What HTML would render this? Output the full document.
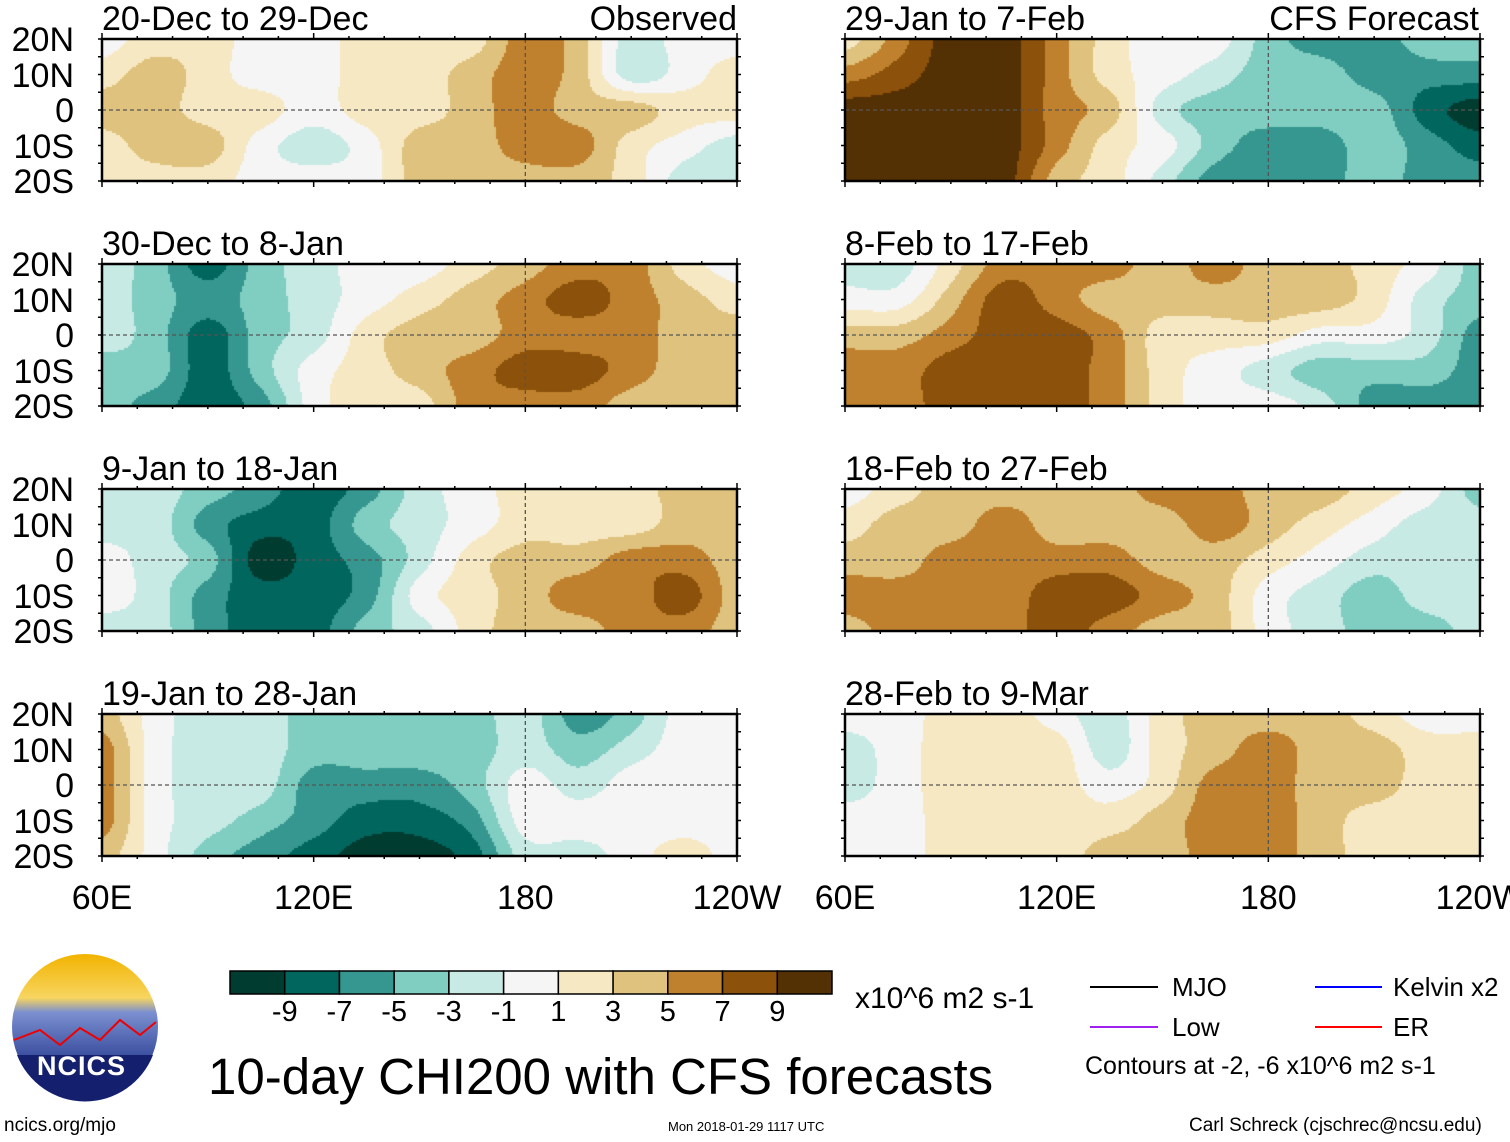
<!DOCTYPE html>
<html><head><meta charset="utf-8">
<style>
body{margin:0;width:1510px;height:1142px;background:#fff;position:relative;overflow:hidden;font-family:"Liberation Sans",sans-serif;color:#000}
.t{position:absolute;white-space:nowrap;line-height:1}
canvas{position:absolute}
</style></head><body>
<svg id="frame" width="1510" height="1142" style="position:absolute;left:0;top:0"></svg>
<script>
// grid nodes: longitudes 60E..240E every 15 deg, latitudes 20N,10N,0,10S,20S
const lons=[60,75,90,105,120,135,150,165,180,195,210,225,240];
const lats=[20,10,0,-10,-20];
const titles=["20-Dec to 29-Dec","30-Dec to 8-Jan","9-Jan to 18-Jan","19-Jan to 28-Jan","29-Jan to 7-Feb","8-Feb to 17-Feb","18-Feb to 27-Feb","28-Feb to 9-Mar"];
// each panel: rows = lats, columns = lons
const p1=[[0,2,2,0,0,2,2,2,6,4,-2,0,0],[2,4,2,0,0,2,2,4,6,4,-2,0,2],[4,4,2,2,0,2,2,4,6,4,4,2,2],[2,4,4,0,-2,0,4,4,6,6,2,0,-2],[2,2,2,0,0,0,4,4,4,4,2,-2,-2]];
const p2=[[-2,-4,-8,-4,-2,0,0,2,4,6,6,2,0],[-2,-4,-6,-4,-2,0,2,4,6,8,6,4,2],[-2,-4,-8,-4,-2,2,4,4,6,6,6,4,4],[-4,-4,-8,-4,0,2,4,6,8,8,6,4,4],[-4,-6,-8,-6,0,2,2,6,6,6,4,4,4]];
const p3=[[-2,-2,-4,-6,-8,-6,-2,0,2,2,2,4,4],[-2,-2,-6,-8,-8,-4,-2,0,2,2,2,4,4],[0,-2,-4,-10,-8,-6,-2,2,4,4,6,6,4],[0,-2,-6,-8,-8,-6,0,2,4,6,6,8,4],[-2,-2,-6,-8,-8,-4,-2,2,4,4,6,6,4]];
const p4=[[4,0,-2,-2,-4,-4,-4,-4,-2,-6,-4,0,0],[6,0,-2,-2,-4,-4,-4,-4,-2,-4,-2,0,0],[6,0,-2,-2,-6,-6,-6,-4,0,-2,0,0,0],[6,0,-2,-4,-6,-8,-8,-6,0,0,0,0,0],[4,0,-4,-6,-8,-10,-10,-8,-2,-2,0,2,0]];
const p5=[[2,6,10,10,6,2,0,0,-4,-6,-6,-4,-4],[6,8,10,10,6,2,0,-2,-4,-4,-6,-6,-6],[10,10,10,10,6,4,-2,-4,-4,-4,-4,-8,-10],[10,10,10,10,6,2,0,-4,-6,-6,-4,-6,-8],[10,10,10,10,4,2,-2,-6,-6,-6,-4,-6,-6]];
const p6=[[-2,-2,2,6,6,6,4,6,4,4,2,0,-4],[0,0,4,8,6,4,4,4,4,4,2,-2,-4],[4,4,6,8,8,6,2,2,2,0,0,-2,-6],[6,6,8,8,8,6,2,0,-2,-4,-4,-4,-6],[6,6,8,8,8,6,2,0,0,-2,-6,-6,-6]];
const p7=[[0,2,4,4,4,4,6,6,4,4,2,0,-4],[2,4,4,6,4,4,4,6,4,2,0,-2,-2],[4,4,6,6,6,6,4,4,2,0,-2,-2,-2],[6,6,6,6,8,8,6,4,0,-2,-4,-2,-2],[4,6,6,6,8,6,4,4,0,-2,-4,-4,-2]];
const p8=[[0,0,2,2,0,-2,2,4,4,4,2,0,0],[-2,0,2,2,2,-2,2,4,6,4,4,2,2],[-2,0,2,2,2,0,2,6,6,4,4,2,2],[0,0,2,2,2,2,4,6,6,4,2,2,2],[0,0,2,2,2,4,4,6,6,4,2,2,2]];
const fields=[p1,p2,p3,p4,p5,p6,p7,p8];
const levels=[-9,-7,-5,-3,-1,1,3,5,7,9];
const colors=["#003c30","#01665e","#35978f","#80cdc1","#c7eae5","#f5f5f5","#f6e8c3","#dfc27d","#bf812d","#8c510a","#543005"];
const latTicks=["20N","10N","0","10S","20S"];
const lonTicks=["60E","120E","180","120W"];
</script>
<script>
const NS="http://www.w3.org/2000/svg";
const svg=document.getElementById('frame');
const PW=635,PH=142;
const colX=[102,845], rowY=[39,264,489,714];
function xOf(lon,x0){return x0+(lon-60)/180*PW;}
function yOf(lat,y0){return y0+(20-lat)/40*PH;}
function colorOf(v){let i=0;while(i<levels.length&&v>=levels[i])i++;return colors[i];}
function cr(p0,p1,p2,p3,t){return 0.5*((2*p1)+(-p0+p2)*t+(2*p0-5*p1+4*p2-p3)*t*t+(-p0+3*p1-3*p2+p3)*t*t*t);}
function sample(f,lon,lat){
  let fi=(lon-60)/15, fj=(20-lat)/10;
  let i=Math.min(Math.floor(fi),11), j=Math.min(Math.floor(fj),3);
  let a=fi-i,b=fj-j;
  const g=(r,c)=>f[Math.max(0,Math.min(4,r))][Math.max(0,Math.min(12,c))];
  const rows=[];
  for(let r=j-1;r<=j+2;r++)rows.push(cr(g(r,i-1),g(r,i),g(r,i+1),g(r,i+2),a));
  return cr(rows[0],rows[1],rows[2],rows[3],b);
}
function mk(tag,attrs,parent){const e=document.createElementNS(NS,tag);for(const k in attrs)e.setAttribute(k,attrs[k]);(parent||svg).appendChild(e);return e;}
function txt(s,x,y,size,anchor){
  const d=document.createElement('div');d.className='t';d.textContent=s;
  d.style.left=x+'px';d.style.top=y+'px';d.style.fontSize=size+'px';
  if(anchor==='end'){d.style.transform='translateX(-100%)';}
  if(anchor==='middle'){d.style.transform='translateX(-50%)';}
  document.body.appendChild(d);return d;
}
fields.forEach((f,p)=>{
  const x0=colX[Math.floor(p/4)], y0=rowY[p%4];
  const cv=document.createElement('canvas');cv.width=PW;cv.height=PH;
  cv.style.left=x0+'px';cv.style.top=y0+'px';
  
  
  document.body.insertBefore(cv,svg);
  const ctx=cv.getContext('2d');const s=2;
  for(let px=0;px<PW;px+=s)for(let py=0;py<PH;py+=s){
    const lon=60+(px+s/2)/PW*180, lat=20-(py+s/2)/PH*40;
    ctx.fillStyle=colorOf(sample(f,lon,lat)+1e-6);ctx.fillRect(px,py,s,s);
  }
  const g=mk('g',{});
  
  
  mk('line',{x1:x0,x2:x0+PW,y1:yOf(0,y0),y2:yOf(0,y0),stroke:'#555','stroke-dasharray':'4,3','stroke-width':1.3},g);
  mk('line',{x1:xOf(180,x0),x2:xOf(180,x0),y1:y0,y2:y0+PH,stroke:'#555','stroke-dasharray':'4,3','stroke-width':1.3},g);
  mk('rect',{x:x0,y:y0,width:PW,height:PH,fill:'none',stroke:'#000','stroke-width':2.5},g);
  for(let lon=60;lon<=240;lon+=10){const x=xOf(lon,x0);const L=(lon%60===0)?6:3;
    mk('line',{x1:x,x2:x,y1:y0,y2:y0-L,stroke:'#000','stroke-width':1.5},g);mk('line',{x1:x,x2:x,y1:y0+PH,y2:y0+PH+L,stroke:'#000','stroke-width':1.5},g);}
  for(let lat=-20;lat<=20;lat+=5){const y=yOf(lat,y0);
    mk('line',{x1:x0,x2:x0-4,y1:y,y2:y,stroke:'#000','stroke-width':1.5},g);mk('line',{x1:x0+PW,x2:x0+PW+4,y1:y,y2:y,stroke:'#000','stroke-width':1.5},g);}
  const t=txt(titles[p],x0,y0-37,34);
  
  
  if(Math.floor(p/4)===0){
    latTicks.forEach((l,k)=>{const d=txt(l,74,yOf(lats[k],y0)-16,34,'end');
      
      });
  }
});
const o=txt("Observed",737,2,34,'end');
const c=txt("CFS Forecast",1479,2,34,'end');
colX.forEach(x0=>{lonTicks.forEach((l,k)=>{const d=txt(l,xOf(60+k*60,x0),881,34,'middle');
  
  });});
// colorbar
const cb=mk('g',{});
const bw=602/11;
colors.forEach((col,i)=>{mk('rect',{x:230+i*bw,y:971,width:bw,height:23,fill:col,stroke:'#000','stroke-width':1.5},cb);});
levels.forEach((l,i)=>{const d=txt(String(l),230+(i+1)*bw,998,29,'middle');
  
  });
</script>
<div class="t" style="left:855px;top:984px;font-size:30px">x10^6 m2 s-1</div>
<div class="t" style="left:208px;top:1051px;font-size:51px">10-day CHI200 with CFS forecasts</div>
<svg width="1510" height="1142" style="position:absolute;left:0;top:0">
<line x1="1090" x2="1158" y1="987" y2="987" stroke="#000" stroke-width="2"/>
<line x1="1090" x2="1158" y1="1027" y2="1027" stroke="#a020f0" stroke-width="2"/>
<line x1="1315" x2="1382" y1="987" y2="987" stroke="#0000ff" stroke-width="2"/>
<line x1="1315" x2="1382" y1="1027" y2="1027" stroke="#ff0000" stroke-width="2"/>
<defs><linearGradient id="sky" x1="0" y1="0" x2="0" y2="1"><stop offset="0" stop-color="#f2b300"/><stop offset="0.3" stop-color="#f7d560"/><stop offset="0.4" stop-color="#7b8fd0"/><stop offset="0.7" stop-color="#3b4fa0"/><stop offset="0.75" stop-color="#1a237e"/></linearGradient></defs>
<g>
<circle cx="85" cy="1027" r="73" fill="url(#sky)"/>
<path d="M14 1040 L40 1030 L60 1045 L80 1028 L100 1040 L120 1020 L140 1035 L156 1022" stroke="#e00" stroke-width="2" fill="none"/>
<path d="M17 1055 A73 73 0 0 0 153 1055 Z" fill="#14206e"/>
</g>
</svg>
<div class="t" style="left:1172px;top:974px;font-size:26px">MJO</div>
<div class="t" style="left:1172px;top:1014px;font-size:26px">Low</div>
<div class="t" style="left:1393px;top:974px;font-size:26px">Kelvin x2</div>
<div class="t" style="left:1393px;top:1014px;font-size:26px">ER</div>
<div class="t" style="left:1085px;top:1054px;font-size:25px">Contours at -2, -6 x10^6 m2 s-1</div>
<div class="t" style="left:37px;top:1053px;font-size:27px;font-weight:bold;color:#fff;letter-spacing:1px">NCICS</div>
<div class="t" style="left:4px;top:1116px;font-size:19px">ncics.org/mjo</div>
<div class="t" style="left:668px;top:1120px;font-size:13px">Mon 2018-01-29 1117 UTC</div>
<div class="t" style="left:1189px;top:1116px;font-size:19px">Carl Schreck (cjschrec@ncsu.edu)</div>
</body></html>
